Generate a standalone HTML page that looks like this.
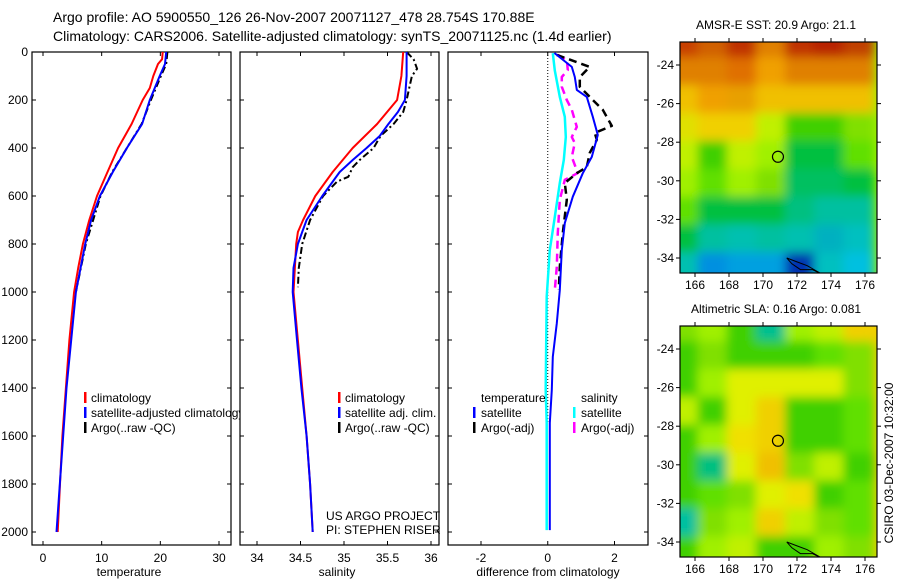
<!DOCTYPE html>
<html><head><meta charset="utf-8"><style>
html,body{margin:0;padding:0;background:#fff;}
svg{display:block;font-family:"Liberation Sans","DejaVu Sans",sans-serif;}
</style></head><body>
<svg id="fig" width="900" height="580" viewBox="0 0 900 580">
<defs>
<filter id="blur" x="-10%" y="-10%" width="120%" height="120%"><feGaussianBlur stdDeviation="5"/></filter>
<clipPath id="clipMap1"><rect x="680" y="42" width="197" height="231"/></clipPath>
<clipPath id="clipMap2"><rect x="680" y="326" width="197" height="231"/></clipPath>
</defs>
<text x="53" y="22" font-size="14">Argo profile: AO 5900550_126 26-Nov-2007 20071127_478 28.754S 170.88E</text>
<text x="53" y="41" font-size="14">Climatology: CARS2006. Satellite-adjusted climatology: synTS_20071125.nc (1.4d earlier)</text>
<g id="layer"></g>
</svg>
<script>
// ---------- data ----------
var depthT = [0,30,50,100,150,200,300,400,500,600,700,800,900,1000,1200,1400,1600,1800,2000];
var tempClim = [20.4,20.3,19.6,18.8,18.2,17.0,15.1,12.8,11.0,9.2,7.9,6.8,6.0,5.3,4.5,3.9,3.3,2.9,2.5];
var depthTS = [0,50,100,200,300,400,500,600,700,800,1000,1400,2000];
var tempSat = [21.0,20.8,19.9,18.2,16.9,14.3,11.9,9.7,8.2,7.2,5.6,4.0,2.3];
var depthTA = [0,50,100,200,300,400,500,560,600,800,1000];
var tempArgo = [21.2,21.0,20.1,18.4,16.8,14.3,11.8,10.6,9.8,7.3,5.6];

var depthS = [0,100,200,300,400,500,600,700,750,800,1000,1400,1600,1800,2000];
var salClim = [35.68,35.66,35.61,35.38,35.10,34.87,34.67,34.53,34.47,34.45,34.42,34.52,34.57,34.61,34.64];
var depthSS = [0,100,200,250,300,350,400,450,500,600,700,750,800,900,1000,1200,1400,1600,1800,2000];
var salSat = [35.72,35.72,35.70,35.62,35.51,35.41,35.26,35.10,34.95,34.75,34.57,34.52,34.47,34.42,34.41,34.46,34.51,34.57,34.61,34.64];
var depthSA = [0,30,70,100,200,250,300,350,400,450,480,520,540,600,700,800,900,980];
var salArgo = [35.72,35.80,35.84,35.78,35.72,35.68,35.57,35.42,35.34,35.18,35.10,35.05,34.92,34.76,34.61,34.52,34.48,34.47];

var dTSdepth = [4,62,104,158,187,270,346,437,505,603,713,825,992,1130,1270,1408,1546,1992];
var dTSat = [0.2,0.72,0.81,0.87,1.17,1.35,1.5,1.32,1.05,0.75,0.51,0.42,0.36,0.27,0.15,0.12,0.06,0.06];
var dTAdepth = [12,62,104,145,200,241,308,337,366,420,479,505,546,616,754,895,990];
var dTArgo = [0.27,1.26,0.96,0.96,1.35,1.65,1.92,1.41,1.47,1.26,1.17,0.87,0.51,0.57,0.45,0.36,0.33];
var dSSdepth = [5,77,187,270,354,450,546,687,825,1020,1408,1546,1992];
var dSSat = [0.15,0.21,0.36,0.51,0.54,0.48,0.36,0.21,0.06,-0.03,-0.06,-0.03,-0.03];
var dSAdepth = [12,33,75,104,145,200,241,312,354,379,437,504,533,616,754,895,992];
var dSArgo = [0.3,0.57,0.6,0.42,0.42,0.57,0.72,0.87,0.72,0.81,0.72,0.9,0.51,0.36,0.3,0.27,0.21];

var depthTicks = [0,200,400,600,800,1000,1200,1400,1600,1800,2000];
var tempTicks = [0,10,20,30];
var salTicks = [34,34.5,35,35.5,36];
var diffTicks = [-2,0,2];
var lonTicks = [166,168,170,172,174,176];
var latTicks = [-24,-26,-28,-30,-32,-34];

var map1Colors = [
["#c84000","#d06000","#c03000","#e08000","#c03000","#b82000","#c04000"],
["#e08000","#e08000","#e07000","#f0a000","#e08000","#e08000","#e08000"],
["#f0c000","#f0a000","#e8a000","#f0c000","#f0c000","#f0c000","#f0c000"],
["#e0e000","#f0d000","#f0d000","#c0f000","#40d000","#40d000","#80e000"],
["#c0f000","#40d000","#c0f000","#a0f000","#00c040","#00c040","#60e000"],
["#a0f000","#60e000","#a0f000","#80e000","#00c060","#00c060","#00c040"],
["#60e000","#00c040","#00c040","#00c040","#00c080","#00c0a0","#00c0a0"],
["#00c040","#00c0a0","#00c0b0","#00c0a0","#00c0b0","#00b0c0","#00c0c0"],
["#00c0b0","#0090e0","#00a0e0","#00a0e0","#0030b0","#00c0c0","#00c0e0"]];
var map2Colors = [
["#80e000","#a0f000","#40d000","#00c090","#a0f000","#c0f000","#f0d000"],
["#40d000","#80e000","#40d000","#40d000","#40d000","#60e000","#80e000"],
["#40d000","#a0f000","#e0f000","#e0f000","#e0f000","#e0f000","#80e000"],
["#c0f000","#40d000","#e0f000","#f0d000","#40d000","#40d000","#60e000"],
["#40d000","#a0f000","#f0e000","#f0d000","#40d000","#40d000","#60e000"],
["#40d000","#00c080","#e0f000","#f0c000","#80e000","#c0f000","#40d000"],
["#40d000","#60e000","#80e000","#e0f000","#f0e000","#40d000","#60e000"],
["#00c0a0","#80e000","#a0f000","#f0d000","#c0f000","#80e000","#60e000"],
["#40d000","#a0f000","#c0f000","#40d000","#40d000","#a0f000","#80e000"]];
var argoLon = 170.88, argoLat = -28.754;

// ---------- helpers ----------
var NS = "http://www.w3.org/2000/svg";
var layer = document.getElementById("layer");
function mk(tag, attrs, parent){
  var e = document.createElementNS(NS, tag);
  for (var k in attrs) e.setAttribute(k, attrs[k]);
  (parent||layer).appendChild(e);
  return e;
}
function lin(d0,d1,r0,r1){ return function(v){ return r0 + (v-d0)/(d1-d0)*(r1-r0); }; }
var yD = lin(0,2000,52,532);
var PT = {x0:32,x1:231}, PS={x0:240,x1:439}, PD={x0:448,x1:648};
var yTop=52, yBot=545;
var xT = lin(0,30,43,219);
var xS = lin(34,36,257,431);
var xDf = lin(-2,2,481,614.5);

function line(xs, ds, xf, color, w, dash, name){
  var p = "";
  for (var i=0;i<xs.length;i++) p += (i?"L":"M")+xf(xs[i]).toFixed(1)+","+yD(ds[i]).toFixed(1);
  var e = mk("path",{d:p,fill:"none",stroke:color,"stroke-width":w,"stroke-linejoin":"round"});
  if (dash) e.setAttribute("stroke-dasharray", dash);
  
  
}
function box(P, name){
  var g = mk("g",{});
  
  
  mk("rect",{x:P.x0,y:yTop,width:P.x1-P.x0,height:yBot-yTop,fill:"none",stroke:"#000","stroke-width":1.2},g);
  depthTicks.forEach(function(d){
    var y=yD(d);
    mk("line",{x1:P.x0,x2:P.x0+4,y1:y,y2:y,stroke:"#000"},g);
    mk("line",{x1:P.x1-4,x2:P.x1,y1:y,y2:y,stroke:"#000"},g);
  });
  return g;
}
function xticks(g, ticks, xf){
  ticks.forEach(function(t){
    var x=xf(t);
    mk("line",{x1:x,x2:x,y1:yTop,y2:yTop+4,stroke:"#000"},g);
    mk("line",{x1:x,x2:x,y1:yBot-4,y2:yBot,stroke:"#000"},g);
    var tx = mk("text",{x:x,y:562,"font-size":12,"text-anchor":"middle"},g);
    tx.textContent = String(t);
    
    
  });
}
function txt(x,y,s,size,anchor,name,extra){
  var t = mk("text",{x:x,y:y,"font-size":size,"text-anchor":anchor||"start"});
  if (extra) for (var k in extra) t.setAttribute(k, extra[k]);
  t.textContent = s;
  
  
  return t;
}
function legMark(x,y,color){
  var m = mk("rect",{x:x,y:y-10,width:2.5,height:11,fill:color});
  
  
}

// ---------- panel 1: temperature ----------
var g1 = box(PT, "temperature-axes");
xticks(g1, tempTicks, xT);
depthTicks.forEach(function(d){
  txt(28, yD(d)+4, String(d), 12, "end", "y-tick-label");
});
line(tempClim, depthT, xT, "#ff0000", 2, null, "temp-climatology-line");
line(tempArgo, depthTA, xT, "#000", 2, "7,3,2,3", "temp-argo-line");
line(tempSat, depthTS, xT, "#0000ff", 2, null, "temp-satellite-line");
txt(129, 576, "temperature", 12, "middle", "x-axis-title-temperature");
legMark(84, 402, "#ff0000"); txt(91, 402, "climatology", 12, "start", "legend-climatology");
legMark(84, 417, "#0000ff"); txt(91, 417, "satellite-adjusted climatology", 12, "start", "legend-satellite-adjusted");
legMark(84, 432, "#000"); txt(91, 432, "Argo(..raw -QC)", 12, "start", "legend-argo");
mk("rect",{x:240,y:395,width:7,height:40,fill:"#fff"});

// ---------- panel 2: salinity ----------
var g2 = box(PS, "salinity-axes");
xticks(g2, salTicks, xS);
line(salClim, depthS, xS, "#ff0000", 2, null, "sal-climatology-line");
line(salArgo, depthSA, xS, "#000", 2, "7,3,2,3", "sal-argo-line");
line(salSat, depthSS, xS, "#0000ff", 2, null, "sal-satellite-line");
txt(337, 576, "salinity", 12, "middle", "x-axis-title-salinity");
legMark(338, 402, "#ff0000"); txt(345, 402, "climatology", 12, "start", "legend-climatology-2");
legMark(338, 417, "#0000ff"); txt(345, 417, "satellite adj. clim.", 12, "start", "legend-satellite-adj-2");
legMark(338, 432, "#000"); txt(345, 432, "Argo(..raw -QC)", 12, "start", "legend-argo-2");
txt(326, 520, "US ARGO PROJECT", 12, "start", "project-label");
txt(326, 534, "PI: STEPHEN RISER", 12, "start", "pi-label");

// ---------- panel 3: differences ----------
var g3 = box(PD, "difference-axes");
xticks(g3, diffTicks, xDf);
var zl = mk("line",{x1:xDf(0),x2:xDf(0),y1:yTop,y2:yD(1550),stroke:"#000","stroke-width":1,"stroke-dasharray":"1,2"});


line(dSSat, dSSdepth, xDf, "#00ffff", 2.5, null, "diff-sal-satellite-line");
line(dSArgo, dSAdepth, xDf, "#ff00ff", 2.5, "8,5", "diff-sal-argo-line");
line(dTArgo, dTAdepth, xDf, "#000", 2.5, "8,5", "diff-temp-argo-line");
line(dTSat, dTSdepth, xDf, "#0000ff", 2, null, "diff-temp-satellite-line");
txt(548, 576, "difference from climatology", 12, "middle", "x-axis-title-difference");
txt(481, 402, "temperature", 12, "start", "legend-temperature-header");
legMark(473, 417, "#0000ff"); txt(481, 417, "satellite", 12, "start", "legend-temp-satellite");
legMark(473, 432, "#000"); txt(481, 432, "Argo(-adj)", 12, "start", "legend-temp-argo");
txt(581, 402, "salinity", 12, "start", "legend-salinity-header");
legMark(573, 417, "#00ffff"); txt(581, 417, "satellite", 12, "start", "legend-sal-satellite");
legMark(573, 432, "#ff00ff"); txt(581, 432, "Argo(-adj)", 12, "start", "legend-sal-argo");

// ---------- maps ----------
function drawMap(colors, y0, clipId, title, name){
  var x0=680, w=197, h=231;
  var xL = lin(166,176,695,865);
  var yL = lin(-24,-34,y0+23,y0+216);
  var g = mk("g",{});
  
  
  var cg = mk("g",{"clip-path":"url(#"+clipId+")"},g);
  mk("rect",{x:x0,y:y0,width:w,height:h,fill:colors[4][3]},cg);
  var bg = mk("g",{filter:"url(#blur)"},cg);
  var rows=colors.length, cols=colors[0].length;
  var lonStep = 12/cols, latStep = 13/rows;
  for (var r=0;r<rows;r++) for (var c=0;c<cols;c++){
    var lon0 = 164.5 + c*lonStep, lat0 = -22.2 - r*latStep;
    var xa = xL(lon0), xb = xL(lon0+lonStep), ya = yL(lat0), yb = yL(lat0-latStep);
    var cell = mk("rect",{x:xa-1,y:ya-1,width:xb-xa+2,height:yb-ya+2,fill:colors[r][c]},bg);
    
    
  }
  var coast = [[171.4,-34.0],[172.0,-34.2],[172.6,-34.4],[173.2,-34.7],[173.6,-34.9],[172.9,-34.6],[172.2,-34.6],[171.7,-34.3]];
  var cp = coast.map(function(p,i){return (i?"L":"M")+xL(p[0]).toFixed(1)+","+yL(p[1]).toFixed(1);}).join("")+"Z";
  var cl = mk("path",{d:cp,fill:"none",stroke:"#000","stroke-width":1},cg);
  
  
  var mk1 = mk("circle",{cx:xL(argoLon),cy:yL(argoLat),r:5.5,fill:"none",stroke:"#000","stroke-width":1.2},g);
  
  
  mk("rect",{x:x0,y:y0,width:w,height:h,fill:"none",stroke:"#000","stroke-width":1.2},g);
  lonTicks.forEach(function(t){
    var x=xL(t);
    mk("line",{x1:x,x2:x,y1:y0-4,y2:y0,stroke:"#000"},g);
    mk("line",{x1:x,x2:x,y1:y0+h,y2:y0+h+4,stroke:"#000"},g);
    var tx = mk("text",{x:x,y:y0+h+16,"font-size":12,"text-anchor":"middle"},g);
    tx.textContent = String(t);
    
    
  });
  latTicks.forEach(function(t){
    var y=yL(t);
    mk("line",{x1:x0-4,x2:x0,y1:y,y2:y,stroke:"#000"},g);
    mk("line",{x1:x0+w,x2:x0+w+4,y1:y,y2:y,stroke:"#000"},g);
    var tx = mk("text",{x:x0-6,y:y+4,"font-size":12,"text-anchor":"end"},g);
    tx.textContent = String(t);
    
    
  });
  txt(776, y0-13, title, 12, "middle", name+"-title");
}
drawMap(map1Colors, 42, "clipMap1", "AMSR-E SST: 20.9 Argo: 21.1", "sst-map");
drawMap(map2Colors, 326, "clipMap2", "Altimetric SLA: 0.16 Argo: 0.081", "sla-map");
txt(0, 0, "CSIRO 03-Dec-2007 10:32:00", 12, "middle", "timestamp-label", {transform:"translate(893,463) rotate(-90)"});
</script>
</body></html>
